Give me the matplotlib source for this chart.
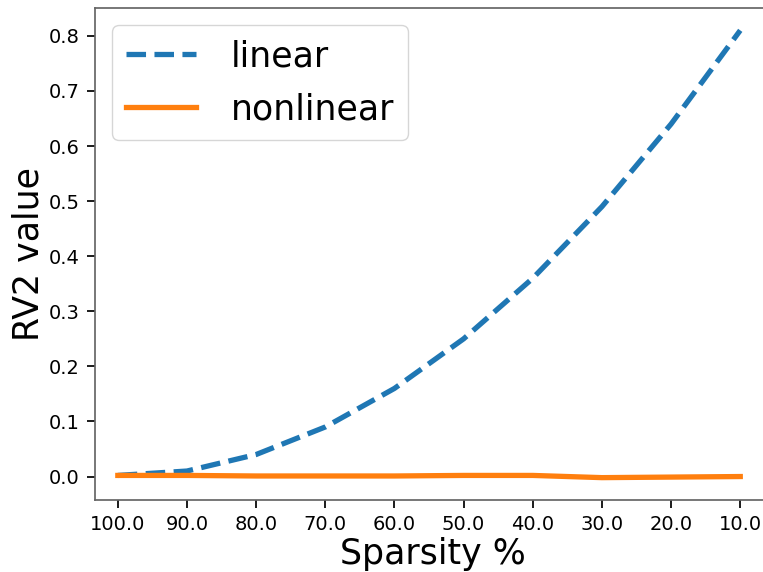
import matplotlib
matplotlib.use("Agg")
import matplotlib.pyplot as plt
import numpy as np

sparsity = ["100.0", "90.0", "80.0", "70.0", "60.0", "50.0", "40.0", "30.0", "20.0", "10.0"]
linear = [0.002, 0.01, 0.04, 0.09, 0.16, 0.25, 0.36, 0.49, 0.64, 0.81]
nonlinear = [0.002, 0.002, 0.001, 0.001, 0.001, 0.002, 0.002, -0.002, -0.001, 0.000]

fig = plt.figure(figsize=(7.63, 5.72), dpi=100)
ax = fig.add_axes([95/763, 1 - 500/572, (770 - 95)/763, (500 - 8)/572])
x = np.arange(len(sparsity))
ax.plot(x, linear, linestyle="--", color="#1f77b4", lw=3.8, label="linear")
ax.plot(x, nonlinear, linestyle="-", color="#ff7f0e", lw=3.8, label="nonlinear")
ax.set_xticks(x)
ax.set_xticklabels(sparsity)
ax.set_xlim(-0.33, 9.43)
ax.set_yticks([0.0, 0.1, 0.2, 0.3, 0.4, 0.5, 0.6, 0.7, 0.8])
ax.tick_params(labelsize=14, length=6, width=1.25, pad=5)
for s in ax.spines.values():
    s.set_color("#666666")
    s.set_linewidth(1.25)
ax.set_xlabel("Sparsity %", fontsize=25, labelpad=2)
ax.set_ylabel("RV2 value", fontsize=25, labelpad=2)
ax.legend(loc="upper left", fontsize=25, handlelength=2.0, borderaxespad=0.5,
          handletextpad=1.0, labelspacing=0.55)
fig.savefig("out.png", dpi=100)
